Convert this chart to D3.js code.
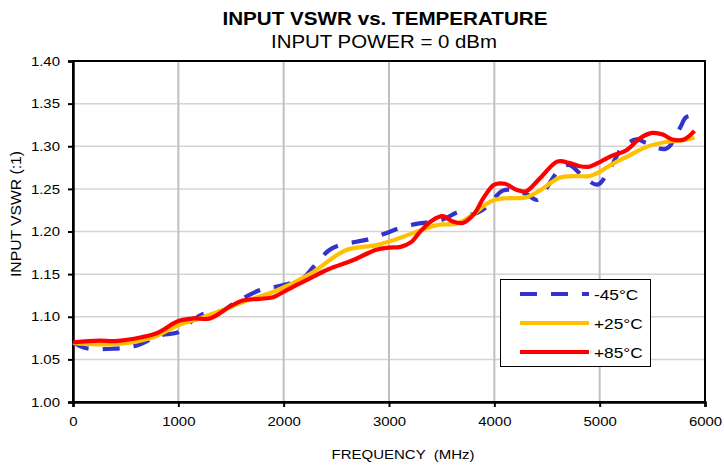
<!DOCTYPE html>
<html><head><meta charset="utf-8">
<script src="https://cdn.jsdelivr.net/npm/d3@7"></script>
<style>body{margin:0;background:#fff}svg{display:block}text{font-family:"Liberation Sans",Arial,sans-serif}</style>
</head><body><svg id="c" width="724" height="465"></svg>
<script>
const xTicks = [0,1000,2000,3000,4000,5000,6000];
const yTicks = [1.00,1.05,1.10,1.15,1.20,1.25,1.30,1.35,1.40];
const seriesNames = ["-45°C","+25°C","+85°C"];

const bluF = [0,130,380,600,820,1000,1140,1230,1420,1520,1770,1960,2180,2280,2430,2530,2690,2810,2970,3100,3260,3380,3510,3670,3790,3920,4080,4200,4300,4410,4490,4620,4710,4840,4980,5080,5220,5350,5440,5630,5760,5820,5890];
const bluV = [1.070,1.063,1.0625,1.066,1.078,1.082,1.096,1.103,1.107,1.115,1.131,1.136,1.145,1.158,1.178,1.184,1.188,1.191,1.198,1.204,1.209,1.211,1.214,1.223,1.220,1.228,1.248,1.248,1.244,1.237,1.250,1.273,1.278,1.265,1.255,1.270,1.299,1.308,1.304,1.297,1.321,1.334,1.336];

const yelF = [0,250,500,760,1000,1200,1450,1650,1900,2250,2590,2880,3070,3290,3480,3640,3790,3920,4000,4110,4300,4430,4620,4780,4900,5000,5120,5280,5440,5630,5790,5900];
const yelV = [1.069,1.0676,1.069,1.076,1.090,1.098,1.109,1.119,1.129,1.150,1.178,1.184,1.191,1.201,1.208,1.209,1.219,1.232,1.237,1.239,1.240,1.248,1.263,1.265,1.265,1.270,1.279,1.289,1.299,1.305,1.307,1.310];

const redF = [0,250,400,650,800,1000,1140,1300,1490,1610,1770,1900,2025,2150,2250,2430,2650,2880,3000,3110,3210,3290,3410,3510,3600,3700,3810,3900,4000,4100,4210,4300,4430,4600,4710,4810,4900,5010,5120,5250,5390,5500,5600,5690,5800,5900];
const redV = [1.070,1.072,1.0715,1.076,1.081,1.095,1.098,1.098,1.112,1.119,1.121,1.123,1.131,1.139,1.145,1.156,1.166,1.1785,1.181,1.182,1.1875,1.199,1.213,1.218,1.212,1.210,1.221,1.240,1.255,1.256,1.249,1.247,1.262,1.282,1.2805,1.2766,1.276,1.282,1.289,1.295,1.310,1.3156,1.3137,1.308,1.308,1.318];

const svg = d3.select("#c");
const L=73, R=705, T=61, B=402;
const x = d3.scaleLinear().domain([0,6000]).range([L,R]);
const y = d3.scaleLinear().domain([1.0,1.4]).range([B,T]);
const STRETCH = 1.15;
const stretch = sel => sel.each(function(){
  const w = this.getComputedTextLength();
  d3.select(this).attr("textLength", w*STRETCH).attr("lengthAdjust","spacingAndGlyphs");
});

// gridlines
svg.append("g").selectAll("line").data(yTicks.slice(1,-1)).join("line")
  .attr("x1",L).attr("x2",R).attr("y1",d=>y(d)).attr("y2",d=>y(d))
  .attr("stroke","#d4d4d4").attr("stroke-width",1.5);
svg.append("g").selectAll("line").data(xTicks.slice(1,-1)).join("line")
  .attr("y1",T).attr("y2",B).attr("x1",d=>x(d)).attr("x2",d=>x(d))
  .attr("stroke","#c0c0c0").attr("stroke-width",2);

// frame
svg.append("rect").attr("x",L).attr("y",T).attr("width",R-L).attr("height",B-T)
  .attr("fill","none").attr("stroke","#000").attr("stroke-width",2);

// axes
const xAxis = svg.append("g").attr("transform",`translate(0,${B})`)
  .call(d3.axisBottom(x).tickValues(xTicks).tickSize(5).tickPadding(10).tickFormat(d3.format("d")));
const yAxis = svg.append("g").attr("transform",`translate(${L},0)`)
  .call(d3.axisLeft(y).tickValues(yTicks).tickSize(5).tickPadding(8).tickFormat(d3.format(".2f")));
[xAxis,yAxis].forEach(a=>{
  a.select(".domain").attr("stroke","#000").attr("stroke-width",2.5);
  a.selectAll(".tick line").attr("stroke","#000").attr("stroke-width",2);
  a.selectAll(".tick text").attr("font-size",13).attr("fill","#000").style("font-family","'Liberation Sans',Arial,sans-serif").call(stretch);
});

const line = d3.line().x(d=>x(d[0])).y(d=>y(d[1])).curve(d3.curveCatmullRom.alpha(0.5));
const mk = (F,V)=>F.map((f,i)=>[f,V[i]]);
const series = [
  {data:mk(bluF,bluV), color:"#3333cc", dash:"17,14"},
  {data:mk(yelF,yelV), color:"#ffc000", dash:null},
  {data:mk(redF,redV), color:"#ff0000", dash:null}
];
series.forEach(s=>{
  svg.append("path").attr("d",line(s.data)).attr("fill","none")
    .attr("stroke",s.color).attr("stroke-width",4.2)
    .attr("stroke-dasharray",s.dash).attr("stroke-linejoin","round");
});

// legend
const lg = svg.append("g");
lg.append("rect").attr("x",500.5).attr("y",279.5).attr("width",150).attr("height",87)
  .attr("fill","#fff").attr("stroke","#000").attr("stroke-width",1);
const ly = [294,323,352];
series.forEach((s,i)=>{
  lg.append("line").attr("x1",520).attr("x2",589).attr("y1",ly[i]).attr("y2",ly[i])
    .attr("stroke",s.color).attr("stroke-width",4.2).attr("stroke-dasharray",s.dash);
  lg.append("text").attr("x",594).attr("y",ly[i]+5.5).attr("font-size",15).text(seriesNames[i]).call(stretch);
});

// titles
svg.append("text").attr("x",385).attr("y",24.5).attr("text-anchor","middle")
  .attr("font-size",17.5).attr("font-weight","bold").text("INPUT VSWR vs. TEMPERATURE")
  .attr("textLength",325).attr("lengthAdjust","spacingAndGlyphs");
svg.append("text").attr("x",384).attr("y",48).attr("text-anchor","middle")
  .attr("font-size",17.5).text("INPUT POWER = 0 dBm")
  .attr("textLength",226).attr("lengthAdjust","spacingAndGlyphs");
svg.append("text").attr("x",403).attr("y",459).attr("text-anchor","middle")
  .attr("font-size",13.5).attr("xml:space","preserve").text("FREQUENCY  (MHz)")
  .attr("textLength",143).attr("lengthAdjust","spacingAndGlyphs");
svg.append("text").attr("transform","translate(21,214) rotate(-90)").attr("text-anchor","middle")
  .attr("font-size",14.5).text("INPUT VSWR (:1)")
  .attr("textLength",126).attr("lengthAdjust","spacingAndGlyphs");
</script></body></html>
